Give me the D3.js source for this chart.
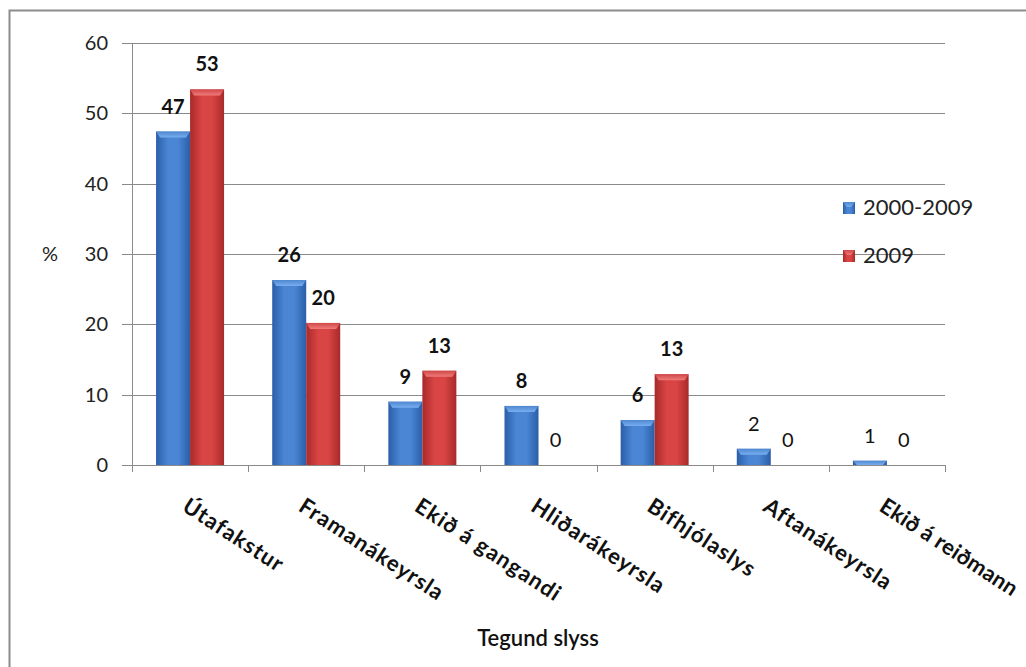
<!DOCTYPE html>
<html>
<head>
<meta charset="utf-8">
<script src="https://cdn.jsdelivr.net/npm/d3@7"></script>
<style>
  html, body { margin: 0; padding: 0; background: #fff; overflow: hidden; }
  svg { display: block; font-family: Lato, "Open Sans", sans-serif; }
</style>
</head>
<body>
<svg id="chart" width="1026" height="667"></svg>
<script>
// Tegund slyss: share of accidents (%)
const categories = ["Útafakstur", "Framanákeyrsla", "Ekið á gangandi", "Hliðarákeyrsla", "Bifhjólaslys", "Aftanákeyrsla", "Ekið á reiðmann"];
const seriesNames = ["2000-2009", "2009"];
const values2000_2009 = [47.4, 26.3, 9.0, 8.4, 6.4, 2.3, 0.6];
const values2009 = [53.4, 20.2, 13.4, 0, 12.9, 0, 0];
const yTicks = [0, 10, 20, 30, 40, 50, 60];

const svg = d3.select("#chart");
const margin = { left: 132, right: 81, top: 43, bottom: 202 };
const W = 1026, H = 667;
const plotW = W - margin.left - margin.right;
const plotH = H - margin.top - margin.bottom;

// outer frame
svg.append("rect")
  .attr("x", 9.5).attr("y", 10.5)
  .attr("width", 1030).attr("height", 700)
  .attr("fill", "#fff").attr("stroke", "#8c8c8c").attr("stroke-width", 2);

// gradients for the bevelled bars
const defs = svg.append("defs");
const palettes = [
  { id: "g0", edge: "#2b5ea8", mid: "#4a86d4", top: "#78aef0", topEdge: "#4f88d0" },
  { id: "g1", edge: "#a82a2a", mid: "#d94444", top: "#f07a7a", topEdge: "#d04848" }
];
palettes.forEach(p => {
  const g = defs.append("linearGradient").attr("id", p.id).attr("x1", "0").attr("x2", "1").attr("y1", "0").attr("y2", "0");
  g.append("stop").attr("offset", "0%").attr("stop-color", p.edge);
  g.append("stop").attr("offset", "35%").attr("stop-color", p.mid);
  g.append("stop").attr("offset", "65%").attr("stop-color", p.mid);
  g.append("stop").attr("offset", "100%").attr("stop-color", p.edge);
  const t = defs.append("linearGradient").attr("id", p.id + "t").attr("x1", "0").attr("x2", "0").attr("y1", "0").attr("y2", "1");
  t.append("stop").attr("offset", "0%").attr("stop-color", p.topEdge);
  t.append("stop").attr("offset", "100%").attr("stop-color", p.top);
});

const g = svg.append("g").attr("transform", `translate(${margin.left},${margin.top})`);

const x = d3.scaleBand().domain(categories).range([0, plotW]).padding(0);
const inner = d3.scaleBand().domain(seriesNames).range([x.bandwidth() / 2 - 34, x.bandwidth() / 2 + 34]).padding(0);
const y = d3.scaleLinear().domain([0, 60]).range([plotH, 0]);

// horizontal gridlines + left ticks
g.append("g").selectAll("line").data(yTicks).join("line")
  .attr("x1", -10).attr("x2", plotW)
  .attr("y1", d => Math.round(y(d)) + 0.5).attr("y2", d => Math.round(y(d)) + 0.5)
  .attr("stroke", "#8a8a8a").attr("stroke-width", 1);

// y axis labels
const yAxis = d3.axisLeft(y).tickValues(yTicks).tickSize(0).tickPadding(24);
const ya = g.append("g").call(yAxis);
ya.select(".domain").attr("stroke", "#8a8a8a");
ya.selectAll("text").attr("font-size", 20).attr("fill", "#222").attr("font-family", "Lato, sans-serif");

// x axis with boundary ticks
g.append("line").attr("x1", 0).attr("x2", plotW).attr("y1", plotH + 0.5).attr("y2", plotH + 0.5).attr("stroke", "#8a8a8a");
const bounds = d3.range(categories.length + 1).map(i => i * x.step());
g.append("g").selectAll("line").data(bounds).join("line")
  .attr("x1", d => Math.round(d) + 0.5).attr("x2", d => Math.round(d) + 0.5)
  .attr("y1", plotH).attr("y2", plotH + 7)
  .attr("stroke", "#8a8a8a");

// bars
const rows = categories.map((c, i) => ({ c, vals: [values2000_2009[i], values2009[i]] }));
const groups = g.append("g").selectAll("g").data(rows).join("g")
  .attr("transform", d => `translate(${x(d.c)},0)`);

groups.each(function (d) {
  const grp = d3.select(this);
  d.vals.forEach((v, si) => {
    const bx = inner(seriesNames[si]);
    const bw = inner.bandwidth();
    const by = y(v);
    const bh = plotH - by;
    if (bh > 0) {
      grp.append("rect").attr("x", bx).attr("y", by).attr("width", bw).attr("height", bh)
        .attr("fill", `url(#g${si})`);
      const bev = Math.min(6, bh);
      grp.append("path")
        .attr("d", `M${bx},${by} L${bx + bw},${by} L${bx + bw - 4},${by + bev} L${bx + 4},${by + bev} Z`)
        .attr("fill", `url(#g${si}t)`);
    }
    grp.append("text")
      .attr("x", bx + bw / 2).attr("y", by - 18)
      .attr("text-anchor", "middle")
      .attr("font-size", 20).attr("font-weight", v >= 3 ? "bold" : "normal")
      .attr("fill", "#111")
      .text(Math.round(v));
  });
});

// rotated category labels (the last one is packed a little tighter to stay inside the frame)
g.append("g").selectAll("text").data(categories).join("text")
  .attr("transform", d => `translate(${x(d) + x.bandwidth() / 2 - 9},${plotH + 45}) rotate(33)`)
  .attr("font-size", 22).attr("font-weight", "bold").attr("fill", "#111")
  .attr("letter-spacing", (d, i) => i === categories.length - 1 ? 0.2 : 1.1)
  .text(d => d);

// axis titles
svg.append("text").attr("x", 50).attr("y", 261).attr("text-anchor", "middle")
  .attr("font-size", 20).attr("fill", "#222").text("%");
svg.append("text").attr("x", 538).attr("y", 646).attr("text-anchor", "middle")
  .attr("font-size", 22).attr("font-weight", 600).attr("fill", "#111").text("Tegund slyss");

// legend
const legend = svg.append("g").attr("transform", "translate(843,202)");
seriesNames.forEach((s, i) => {
  const lg = legend.append("g").attr("transform", `translate(0,${i * 48})`);
  lg.append("rect").attr("width", 12).attr("height", 12).attr("fill", `url(#g${i})`);
  lg.append("path").attr("d", "M0,0 L12,0 L8,5 L4,5 Z").attr("fill", `url(#g${i}t)`);
  lg.append("text").attr("x", 20).attr("y", 13).attr("font-size", 22).attr("fill", "#222").text(s);
});
</script>
</body>
</html>
